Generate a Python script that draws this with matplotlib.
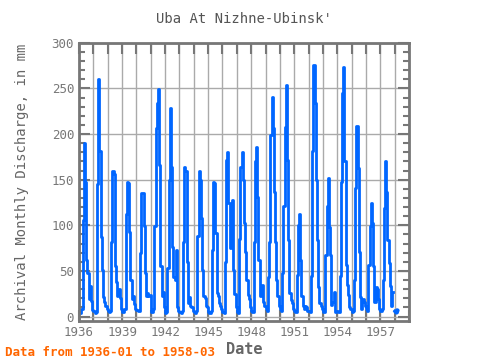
import numpy as np
import pandas as pd
import matplotlib
matplotlib.use("Agg")
import matplotlib.pyplot as plt
from matplotlib.ticker import MultipleLocator

v1936 = [5, 4, 8, 106, 190, 148, 62, 48, 19, 33, 17, 7]
v1937 = [6, 4, 5, 145, 260, 181, 87, 51, 21, 16, 12, 8]
v1938 = [6, 5, 6, 82, 160, 156, 55, 38, 22, 30, 20, 8]
v1939 = [5, 5, 8, 112, 148, 146, 93, 40, 19, 22, 14, 8]
v1940 = [7, 6, 6, 70, 135, 135, 99, 48, 22, 26, 22, 24]
v1941 = [5, 5, 8, 99, 207, 234, 249, 166, 55, 22, 27, 10]
v1942 = [4, 5, 53, 150, 229, 164, 76, 43, 40, 73, 10, 6]
v1943 = [5, 4, 6, 82, 164, 160, 60, 15, 21, 12, 10, 6]
v1944 = [5, 4, 6, 88, 159, 150, 108, 51, 22, 20, 12, 10]
v1945 = [5, 4, 6, 73, 148, 146, 92, 26, 22, 15, 12, 8]
v1946 = [5, 4, 60, 172, 180, 125, 75, 99, 128, 51, 25, 10]
v1947 = [5, 4, 85, 164, 180, 150, 103, 71, 40, 24, 19, 11]
v1948 = [6, 5, 82, 170, 186, 131, 62, 22, 27, 35, 16, 12]
v1949 = [8, 6, 43, 82, 199, 241, 207, 136, 82, 40, 22, 12]
v1950 = [8, 6, 48, 121, 208, 254, 172, 84, 26, 18, 15, 8]
v1951 = [6, 5, 46, 100, 112, 62, 22, 12, 8, 12, 10, 6]
v1952 = [6, 5, 45, 181, 276, 234, 150, 84, 32, 15, 12, 8]
v1953 = [5, 5, 68, 121, 152, 98, 68, 13, 16, 27, 5, 6]
v1954 = [6, 5, 45, 148, 245, 274, 170, 57, 35, 24, 11, 8]
v1955 = [5, 6, 40, 141, 209, 163, 71, 21, 8, 19, 16, 12]
v1956 = [8, 6, 57, 99, 124, 103, 55, 16, 32, 30, 19, 8]
v1957 = [6, 8, 40, 119, 170, 136, 84, 59, 33, 12, 27, np.nan]
v1958 = [6, 5, 7]

values = (v1936 + v1937 + v1938 + v1939 + v1940 + v1941 + v1942 + v1943 +
          v1944 + v1945 + v1946 + v1947 + v1948 + v1949 + v1950 + v1951 +
          v1952 + v1953 + v1954 + v1955 + v1956 + v1957 + v1958)
dates = pd.date_range("1936-01", periods=len(values), freq="MS")
xdec = dates.year + (dates.month - 1) / 12.0

xticks = [1936, 1939, 1942, 1945, 1948, 1951, 1954, 1957]

grey = "#777777"
font = "DejaVu Sans Mono"

fig = plt.figure(figsize=(4.8, 3.6), dpi=100)
ax = fig.add_axes([0.1646, 0.108, 0.6875, 0.773])
ax.plot(xdec, values, color="#0066ff", lw=2.0, drawstyle="steps-post")
ax.plot(xdec[-3:], values[-3:], color="#0066ff", lw=2.0, marker="o", ms=2)

ax.set_xlim(1936, 1959)
ax.set_ylim(-5, 300)
ax.set_xticks(xticks)
ax.xaxis.set_minor_locator(MultipleLocator(1))
ax.yaxis.set_major_locator(MultipleLocator(50))
ax.yaxis.set_minor_locator(MultipleLocator(10))
ax.grid(True, which="major", axis="y", color="#aaaaaa", lw=1)
ax.grid(True, which="minor", axis="x", color="#aaaaaa", lw=1)
ax.grid(True, which="major", axis="x", color="#aaaaaa", lw=1)
ax.set_axisbelow(True)

for s in ax.spines.values():
    s.set_color(grey)
    s.set_linewidth(2)
ax.tick_params(axis="both", which="both", direction="in", color=grey,
               labelcolor=grey, labelsize=9, top=True, right=True, width=1.5)
ax.tick_params(axis="x", which="major", length=8)
ax.tick_params(axis="x", which="minor", length=8)
ax.tick_params(axis="y", which="major", length=8)
ax.tick_params(axis="y", which="minor", length=4)
for lab in ax.get_xticklabels() + ax.get_yticklabels():
    lab.set_fontfamily(font)

ax.set_title("Uba At Nizhne-Ubinsk'", fontsize=10, color="#555555",
             family=font, pad=14)
ax.set_xlabel("Date", fontsize=11, color="#666666", family=font,
              fontweight="bold", labelpad=2)
ax.set_ylabel("Archival Monthly Discharge, in mm", fontsize=10,
              color="#666666", family=font, labelpad=16)
fig.text(5 / 480, 1 - 352 / 360, "Data from 1936-01 to 1958-03", fontsize=9,
         color="#ff6600", family=font, fontweight="bold", va="center")

fig.savefig("out.png", dpi=100)
